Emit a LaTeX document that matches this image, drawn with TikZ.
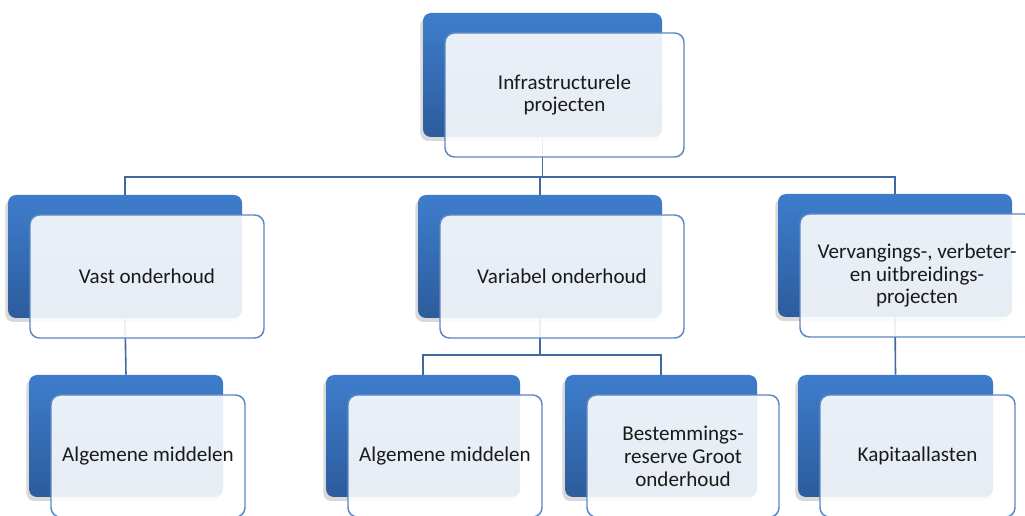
\documentclass[tikz,border=0pt]{standalone}
\usepackage{fontspec}
\setmainfont{Carlito}
\usetikzlibrary{shadows,backgrounds}
\definecolor{backtop}{HTML}{3E7DCC}
\definecolor{backbot}{HTML}{2C5C9C}
\definecolor{frontline}{HTML}{5B87C2}
\definecolor{connline}{HTML}{41699F}
\definecolor{txt}{HTML}{1A1A1A}
\tikzset{
  backbox/.style={rectangle, rounded corners=6pt, top color=backtop, bottom color=backbot, draw=none,
    drop shadow={shadow xshift=-2pt, shadow yshift=-3pt, opacity=0.3}, inner sep=0pt},
  frontbox/.style={rectangle, rounded corners=7pt, fill=white, fill opacity=0.89, text opacity=1,
    draw=frontline, draw opacity=1, line width=1.1pt, align=center, text=txt, inner sep=0pt,
    font=\fontsize{15.8}{17.2}\selectfont},
  conn/.style={draw=connline, line width=1.2pt}
}
\newcommand\orgbox[6]{%
  \node[backbox, minimum width={#4*0.75pt}, minimum height={#5*0.75pt}] (#1) at ({#2+#4/2},{#3+#5/2}) {};
  \node[frontbox, minimum width={#4*0.75pt}, minimum height={#5*0.75pt}] (#1f) at ({#2+22+#4/2},{#3+20+#5/2}) {#6};
}
\begin{document}
\begin{tikzpicture}[x=0.75pt,y=-0.75pt]
\useasboundingbox (0,0) rectangle (1025,516);
\orgbox{top}{423}{13}{239}{124}{Infrastructurele\\projecten}
\orgbox{vast}{8}{195}{234}{123}{Vast onderhoud}
\orgbox{var}{418}{195}{244}{123}{Variabel onderhoud}
\orgbox{verv}{778}{194}{234}{123}{Vervangings-, verbeter-\\en uitbreidings-\\projecten}
\orgbox{alg1}{29}{375}{194}{122}{Algemene middelen}
\orgbox{alg2}{326}{375}{194}{122}{Algemene middelen}
\orgbox{best}{565}{375}{192}{122}{Bestemmings-\\reserve Groot\\onderhoud}
\orgbox{kap}{798}{375}{195}{122}{Kapitaallasten}
\coordinate (bus1) at (0,177);
\coordinate (bus2) at (0,355);
\begin{pgfonlayer}{background}
\draw[conn] (top.south) -- (top.south |- bus1) -| (vast.north);
\draw[conn] (top.south |- bus1) -| (var.north);
\draw[conn] (top.south |- bus1) -| (verv.north);
\draw[conn] (vast.south) -- (alg1.north);
\draw[conn] (verv.south) -- (kap.north);
\draw[conn] (var.south) -- (var.south |- bus2) -| (alg2.north);
\draw[conn] (var.south |- bus2) -| (best.north);
\end{pgfonlayer}
\end{tikzpicture}
\end{document}
